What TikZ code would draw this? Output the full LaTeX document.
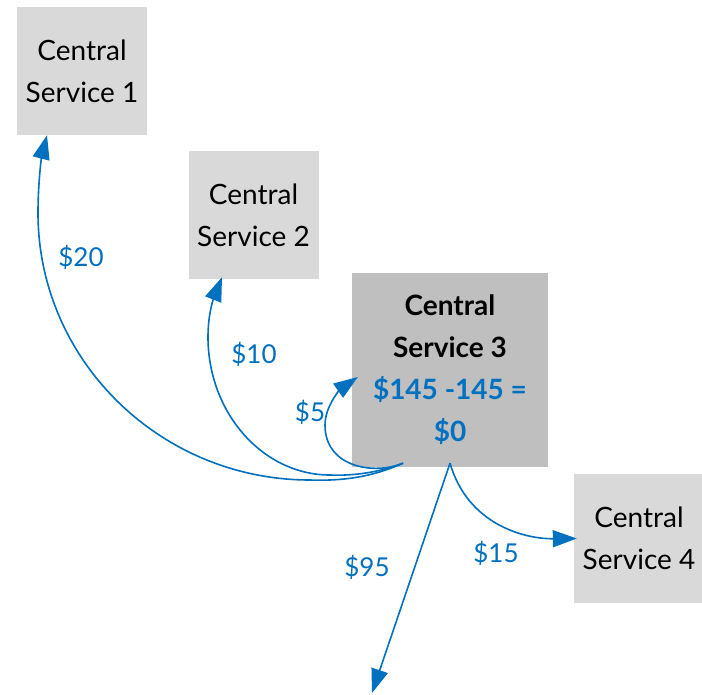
\documentclass[tikz,border=0pt]{standalone}
\usepackage{fontspec}
\setmainfont{Lato}
\usetikzlibrary{arrows.meta,calc}
\definecolor{flowblue}{HTML}{0070C0}
\definecolor{boxlight}{HTML}{D9D9D9}
\definecolor{boxdark}{HTML}{BFBFBF}

\begin{document}
\begin{tikzpicture}[x=1pt,y=-1pt,
  svc/.style={fill=boxlight, inner sep=0pt, minimum width=130pt, minimum height=128pt,
              align=center, font=\fontsize{28}{42}\selectfont},
  hub/.style={svc, fill=boxdark, minimum width=196pt, minimum height=194pt,
              font=\bfseries\fontsize{28}{42}\selectfont},
  flow/.style={draw=flowblue, line width=1.6pt, -{Triangle[length=24pt,width=17pt]}},
  amount/.style={text=flowblue, font=\fontsize{26}{30}\selectfont, inner sep=0pt}]

% canvas
\fill[white] (0,0) rectangle (702,694);
\useasboundingbox (0,0) rectangle (702,694);

% services
\node[svc] (cs1) at (82,71)      {Central\\Service 1};
\node[svc] (cs2) at (253.5,215)  {Central\\Service 2};
\node[hub] (cs3) at (450,370)    {Central\\Service 3\\\textcolor{flowblue}{\$145 -145 =}\\\textcolor{flowblue}{\$0}};
\node[svc, minimum height=129pt] (cs4) at (639,538.5) {Central\\Service 4};
\coordinate (sink) at (372,693);

% payments going out of service 3
\draw[flow] ($(cs3.south)+(-47,-4)$) .. controls (370,478) and (340,481) .. (310,480)
  .. controls (160,480) and (38,360) .. (38,213)
  .. controls (38,180) and (42,155) .. ($(cs1.south)+(-35,0)$);
\draw[flow] ($(cs3.south)+(-47,-4)$) .. controls (380,472) and (355,476) .. (330,475)
  .. controls (263,475) and (208,413) .. (208,337)
  .. controls (208,315) and (213,300) .. ($(cs2.south)+(-31.5,-2)$);
\draw[flow] ($(cs3.south)+(-47,-4)$) .. controls (375,475) and (325,468) .. (325,425)
  .. controls (325,405) and (342,388) .. ($(cs3.west)+(6,7)$);
\draw[flow] ($(cs3.south)+(0,-4)$) -- (sink);
\draw[flow] ($(cs3.south)+(0,-4)$) .. controls (468,525) and (525,539) .. ($(cs4.west)+(3,0)$);

% amounts
\node[amount] (a20) at (81,257)  {\$20};
\node[amount] (a10) at (254,354) {\$10};
\node[amount] (a5)  at (310,412) {\$5};
\node[amount] (a95) at (367,567) {\$95};
\node[amount] (a15) at (496,553) {\$15};
\end{tikzpicture}
\end{document}
